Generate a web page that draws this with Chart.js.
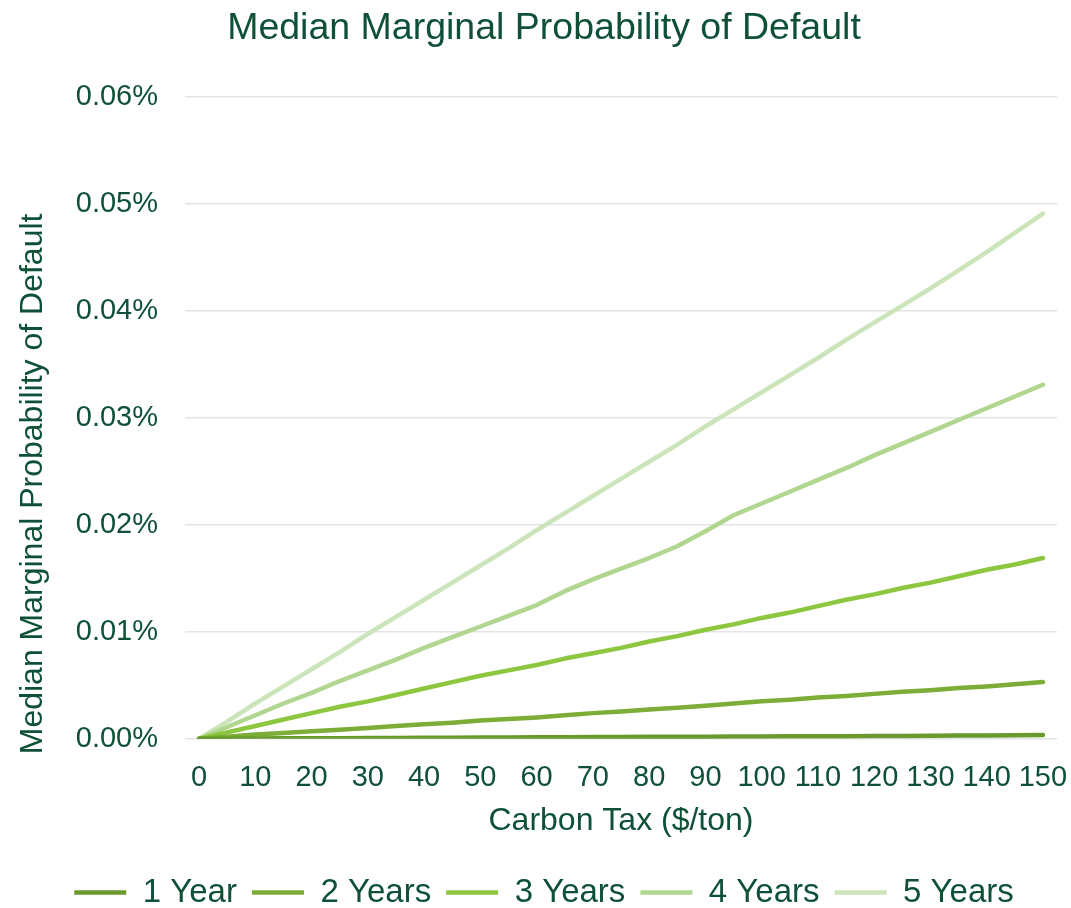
<!DOCTYPE html>
<html>
<head>
<meta charset="utf-8">
<script src="https://cdn.jsdelivr.net/npm/chart.js@4"></script>
<style>
  html, body { margin: 0; padding: 0; background: #fff; }
  #wrap { width: 1071px; height: 908px; position: relative; }
</style>
</head>
<body>
<div id="wrap"><canvas id="chart"></canvas></div>
<script>
// carbon tax levels ($/ton), every 5
const taxLevels = ['0','5','10','15','20','25','30','35','40','45','50','55','60','65','70','75','80','85','90','95','100','105','110','115','120','125','130','135','140','145','150'];

// median marginal PD, in percent
const oneYear = [0, 0.00001, 0.00003, 0.00004, 0.00005, 0.00006, 0.00007, 0.00008, 0.00009, 0.00010, 0.00012, 0.00013, 0.00014, 0.00015, 0.00016, 0.00017, 0.00018, 0.00019, 0.00020, 0.00021, 0.00022, 0.00023, 0.00024, 0.00025, 0.00026, 0.00027, 0.00028, 0.00030, 0.00031, 0.00033, 0.00035];
const twoYears = [0, 0.00020, 0.00040, 0.00055, 0.00070, 0.00085, 0.00100, 0.00120, 0.00135, 0.00150, 0.00170, 0.00185, 0.00200, 0.00220, 0.00240, 0.00255, 0.00275, 0.00290, 0.00310, 0.00330, 0.00350, 0.00365, 0.00385, 0.00400, 0.00420, 0.00440, 0.00455, 0.00475, 0.00490, 0.00510, 0.00530];
const threeYears = [0, 0.0006, 0.0012, 0.0018, 0.0024, 0.0030, 0.0035, 0.0041, 0.0047, 0.0053, 0.0059, 0.0064, 0.0069, 0.0075, 0.0080, 0.0085, 0.0091, 0.0096, 0.0102, 0.0107, 0.0113, 0.0118, 0.0124, 0.0130, 0.0135, 0.0141, 0.0146, 0.0152, 0.0158, 0.0163, 0.0169];
const fourYears = [0, 0.0011, 0.0022, 0.0033, 0.0043, 0.0054, 0.0064, 0.0074, 0.0085, 0.0095, 0.0105, 0.0115, 0.0125, 0.0138, 0.0149, 0.0159, 0.0169, 0.0180, 0.0194, 0.0209, 0.0220, 0.0231, 0.0242, 0.0253, 0.0265, 0.0276, 0.0287, 0.0298, 0.0309, 0.0320, 0.0331];
const fiveYears = [0, 0.0016, 0.0033, 0.0049, 0.0065, 0.0081, 0.0098, 0.0114, 0.0130, 0.0146, 0.0162, 0.0178, 0.0195, 0.0211, 0.0227, 0.0243, 0.0259, 0.0275, 0.0292, 0.0308, 0.0324, 0.0340, 0.0356, 0.0373, 0.0389, 0.0405, 0.0421, 0.0438, 0.0455, 0.0473, 0.0491];

// y axis ticks, in percent
const yTicks = [0, 0.01, 0.02, 0.03, 0.04, 0.05, 0.06];

const seriesNames = ['1 Year', '2 Years', '3 Years', '4 Years', '5 Years'];
const seriesColors = ['#6A992E', '#7CAD36', '#8DC63F', '#B1D690', '#CCE4B9'];

const textColor = '#0E5136';
const fontFamily = '"Liberation Sans", Arial, sans-serif';
const yTitleText = 'Median Marginal Probability of Default';

const seriesData = [oneYear, twoYears, threeYears, fourYears, fiveYears];

const datasets = seriesData.map((vals, i) => ({
    label: seriesNames[i],
    data: vals,
    borderColor: seriesColors[i],
    backgroundColor: seriesColors[i],
    borderWidth: 4.5,
    borderCapStyle: 'round',
    borderJoinStyle: 'round',
    pointRadius: 0,
    tension: 0,
    fill: false,
}));

// vertical axis title, drawn by hand so it can sit a bit lower than the plot centre
const yTitlePlugin = {
    id: 'yTitle',
    afterDraw(chart) {
        const c = chart.ctx;
        const area = chart.chartArea;
        c.save();
        c.fillStyle = textColor;
        c.font = '32px ' + fontFamily;
        c.textAlign = 'center';
        c.textBaseline = 'middle';
        c.translate(33, (area.top + area.bottom) / 2 + 66);
        c.rotate(-Math.PI / 2);
        c.fillText(yTitleText, 0, 0);
        c.restore();
    },
};

const ctx = document.getElementById('chart');
new Chart(ctx, {
    type: 'line',
    data: { labels: taxLevels, datasets: datasets },
    plugins: [yTitlePlugin],
    options: {
        responsive: true,
        maintainAspectRatio: false,
        animation: false,
        layout: { padding: { left: 12, right: -5, top: 4, bottom: -11 } },
        plugins: {
            title: {
                display: true,
                text: 'Median Marginal Probability of Default',
                color: textColor,
                font: { family: fontFamily, size: 37.5, weight: 'normal' },
                padding: { top: 2, bottom: 46 },
            },
            legend: {
                position: 'bottom',
                labels: {
                    color: textColor,
                    font: { family: fontFamily, size: 33 },
                    usePointStyle: true,
                    pointStyle: 'line',
                    pointStyleWidth: 52,
                    padding: 15,
                },
            },
            tooltip: { enabled: false },
        },
        scales: {
            x: {
                type: 'category',
                offset: true,
                // the last label only needs room past the half-category offset
                afterFit: axis => { axis.paddingRight = 14; },
                grid: { display: false },
                border: { display: false },
                ticks: {
                    color: textColor,
                    font: { family: fontFamily, size: 29 },
                    autoSkip: false,
                    maxRotation: 0,
                    padding: 14,
                    callback: function (val) {
                        const lbl = this.getLabelForValue(val);
                        return Number(lbl) % 10 === 0 ? lbl : '';
                    },
                },
                title: {
                    display: true,
                    text: 'Carbon Tax ($/ton)',
                    color: textColor,
                    font: { family: fontFamily, size: 32 },
                    padding: { top: -8, bottom: 21 },
                },
            },
            y: {
                min: 0,
                max: 0.06,
                afterBuildTicks: axis => { axis.ticks = yTicks.map(v => ({ value: v })); },
                // fixed gutter: room for the hand-drawn title plus the tick labels
                afterFit: axis => { axis.width = 173; },
                grid: { color: '#E4E4E4', lineWidth: 1.5, drawTicks: false },
                border: { display: false },
                ticks: {
                    color: textColor,
                    font: { family: fontFamily, size: 29 },
                    padding: 27,
                    callback: v => v.toFixed(2) + '%',
                },
            },
        },
    },
});
</script>
</body>
</html>
